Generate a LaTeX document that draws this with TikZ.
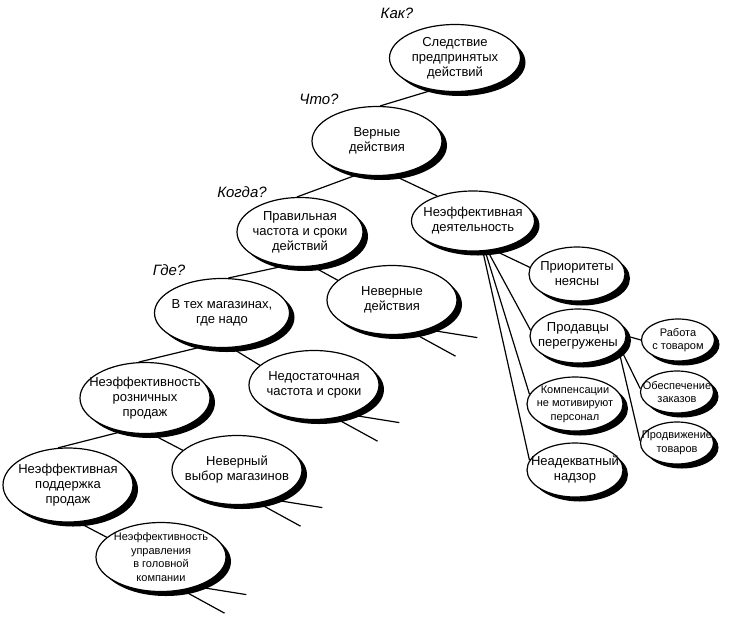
\documentclass[tikz,border=0pt]{standalone}
\usepackage{fontspec}
\setmainfont{Liberation Sans}
\usetikzlibrary{shapes.geometric,shadows}

\begin{document}
\begin{tikzpicture}[x=1pt, y=-1pt,
        blase/.style={ellipse, draw, fill=white, line width=1.2pt, inner sep=-30pt,
            minimum width=130pt, minimum height=69pt, align=center,
            font=\fontsize{13}{15}\selectfont,
            drop shadow={shadow xshift=5pt, shadow yshift=-4.5pt, fill=black, opacity=1}},
        mittel/.style={blase, minimum width=96pt, minimum height=54pt},
        klein/.style={blase, minimum width=73pt, minimum height=42pt, font=\fontsize{11}{13.5}\selectfont,
            drop shadow={shadow xshift=4pt, shadow yshift=-3.5pt, fill=black, opacity=1}},
        kleinschrift/.style={font=\fontsize{11}{13.5}\selectfont},
        frage/.style={font=\fontsize{15}{18}\selectfont\itshape},
        linie/.style={line width=1.2pt}]
        \useasboundingbox (0,0) rectangle (730,632);
        % Fragen
        \node[frage] (kak)   at (397,13)  {Как?};
        \node[frage] (chto)  at (319,99)  {Что?};
        \node[frage] (kogda) at (242,192) {Когда?};
        \node[frage] (gde)   at (169,270) {Где?};
        % Knoten, linker Ast
        \node[blase, minimum width=131pt, minimum height=67pt] (sled) at (455,58) {Следствие\\предпринятых\\действий};
        \node[blase] (verne) at (377,141) {Верные\\действия};
        \node[blase, minimum width=123pt, minimum height=60pt] (neff) at (473,221) {Неэффективная\\деятельность};
        \node[blase, minimum width=126pt] (prav) at (300,232) {Правильная\\частота и сроки\\действий};
        \node[blase, minimum width=135pt] (vteh) at (222,313) {В тех магазинах,\\где надо};
        \node[blase] (nevd) at (392,300) {Неверные\\действия};
        \node[blase] (nedost) at (314,385) {Недостаточная\\частота и сроки};
        \node[blase, minimum height=71pt] (neroz) at (145,398) {Неэффективность\\розничных\\продаж};
        \node[blase] (vybor) at (237,470) {Неверный\\выбор магазинов};
        \node[blase, minimum height=74pt] (podd) at (68,485) {Неэффективная\\поддержка\\продаж};
        \node[blase, kleinschrift] (upr) at (161,557) {Неэффективность\\управления\\в головной\\компании};
        % Knoten, rechter Ast
        \node[mittel] (prio) at (577,274) {Приоритеты\\неясны};
        \node[mittel] (prod) at (578,336) {Продавцы\\перегружены};
        \node[mittel, kleinschrift] (komp) at (575,404) {Компенсации\\не мотивируют\\персонал};
        \node[mittel] (nadz) at (575,470) {Неадекватный\\надзор};
        \node[klein] (rab)   at (678,340) {Работа\\с товаром};
        \node[klein] (obesp) at (677,392) {Обеспечение\\заказов};
        \node[klein] (prodv) at (677,443) {Продвижение\\товаров};
        % Verbindungen
        \draw[linie] (sled.235) -- (verne.85);
        \draw[linie] (verne.240) -- (prav.95);
        \draw[linie] (verne.295) -- (neff.145);
        \draw[linie] (prav.245) -- (vteh.80);
        \draw[linie] (prav.290) -- (nevd.160);
        \draw[linie] (vteh.240) -- (neroz.100);
        \draw[linie] (vteh.285) -- (nedost.160);
        \draw[linie] (neroz.235) -- (podd.105);
        \draw[linie] (neroz.280) -- (vybor.160);
        \draw[linie] (podd.285) -- (upr.160);
        % Faecher rechts
        \draw[linie] (neff.305) -- (prio.172);
        \draw[linie] (neff.296) -- (prod.173);
        \draw[linie] (neff.292) -- (komp.168);
        \draw[linie] (neff.288) -- (nadz.168);
        \draw[linie] (prod.0) -- (rab.180);
        \draw[linie] (prod.343) -- (obesp.175);
        \draw[linie] (prod.340) -- (prodv.177);
        % offene Enden
        \foreach \n in {nevd, nedost, vybor, upr}
        {
            \draw[linie] (\n.320) -- ++(50,8) coordinate (\n-a);
            \draw[linie] (\n.303) -- ++(42,23) coordinate (\n-b);
        }
\end{tikzpicture}
\end{document}
